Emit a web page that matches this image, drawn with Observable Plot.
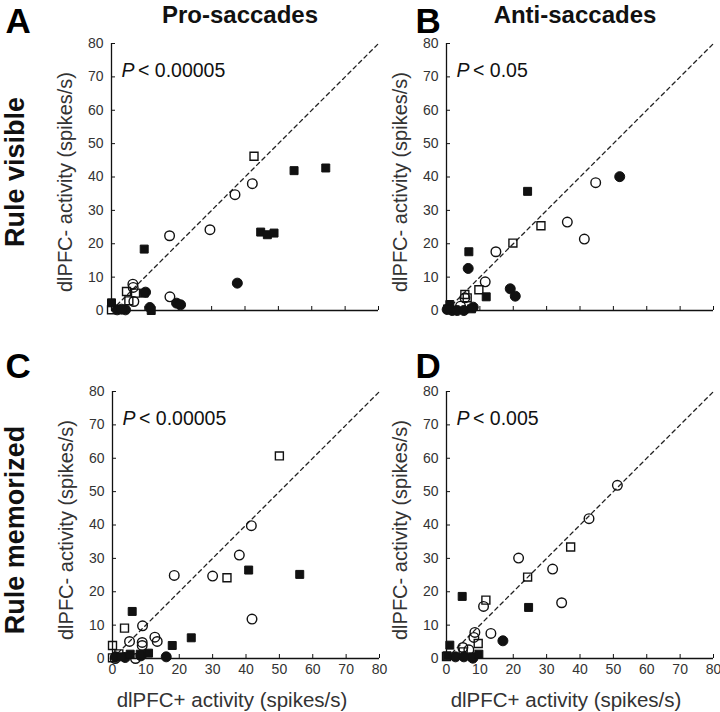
<!DOCTYPE html>
<html>
<head>
<meta charset="utf-8">
<script src="https://cdn.jsdelivr.net/npm/d3@7"></script>
<script src="https://cdn.jsdelivr.net/npm/@observablehq/plot@0.6"></script>
<style>
  html, body { margin: 0; padding: 0; background: #fff; }
  #chart { position: relative; width: 720px; height: 712px; overflow: hidden; background: #fff; }
  #chart svg { position: absolute; left: 0; top: 0; }
  [aria-label="pval"] text { letter-spacing: 0.3px; }
  [aria-label="ylabel"] text { letter-spacing: 0.8px; }
  [aria-label="title"] text { letter-spacing: 1.3px; }
</style>
</head>
<body>
<div id="chart"></div>
<script>
// ---- data (x = dlPFC+ activity, y = dlPFC- activity, spikes/s) ----
const axisTicks = [0, 10, 20, 30, 40, 50, 60, 70, 80];
const unityLine = [0, 80];

// Panel A: Pro-saccades, rule visible
const aOpenCircle = [[42.2,38],[37,34.7],[29.5,24.2],[17.4,22.4],[17.5,4.1],[6.4,7.9],[6.5,6.9],[6.7,2.7]];
const aFilledCircle = [[37.7,8.2],[19.5,2.2],[20.7,1.7],[10.2,5.5],[1.7,0.2],[4.2,0.2],[3,0.4],[11.5,0.9]];
const aOpenSquare = [[42.7,46.2],[4.5,5.7],[7.2,5.2],[5.2,2.9],[0,0.2]];
const aFilledSquare = [[54.7,41.9],[64.2,42.7],[9.8,18.4],[44.7,23.5],[46.7,22.7],[48.7,23.2],[0,2.3],[11.9,0],[9.8,5.2]];

// Panel B: Anti-saccades, rule visible
const bOpenCircle = [[44.7,38.3],[36.2,26.5],[41.3,21.4],[14.8,17.6],[11.6,8.6],[5.5,3.8],[4.2,1.3]];
const bFilledCircle = [[51.9,40.1],[6.5,12.6],[19.1,6.5],[20.6,4.3],[0.2,0.3],[1.7,0],[3.2,0],[5.2,0],[8,1]];
const bOpenSquare = [[28.3,25.4],[19.9,20.2],[9.7,6.2],[5.5,4.8],[6.2,3.8]];
const bFilledSquare = [[24.3,35.7],[6.7,17.6],[11.9,4.1],[1,1.8],[0.3,0.5],[7.5,0.5]];

// Panel C: Pro-saccades, rule memorized
const cOpenCircle = [[41.6,39.8],[38,31],[18.5,24.9],[30,24.7],[41.8,11.8],[9,9.8],[12.7,6.4],[13.4,5.1],[5.1,5.1],[8.9,4.8],[8.9,3.9],[6.9,0],[0.8,0]];
const cFilledCircle = [[16.1,0.5],[3.8,0.3],[0.9,0.5],[8.5,0.8]];
const cOpenSquare = [[50,60.7],[34.3,24.2],[3.6,9.1],[0,3.9],[0,0.2],[1.9,1.4]];
const cFilledSquare = [[40.8,26.5],[56.1,25.2],[5.9,14.1],[23.6,6.2],[17.9,3.9],[5.3,1.3],[8.3,1.3],[10.8,1.6],[2.5,0.5]];

// Panel D: Anti-saccades, rule memorized
const dOpenCircle = [[51.2,51.9],[42.7,41.9],[21.6,30.1],[31.8,26.8],[34.5,16.7],[11.1,15.6],[13.3,7.5],[8.5,7.8],[8.2,6.3],[4.9,3.3],[6.7,2.6]];
const dFilledCircle = [[16.9,5.3],[7.9,0.1],[2.7,0.5],[5.2,0.5]];
const dOpenSquare = [[37.2,33.4],[24.3,24.4],[11.8,17.5],[9.5,4.5],[0,0.6],[5,2]];
const dFilledSquare = [[24.6,15.3],[4.7,18.6],[1,4],[0.2,0.8],[7.7,0.5],[9.7,1.3]];

const panelTitles = ["Pro-saccades", "Anti-saccades"];
const rowLabels = ["Rule visible", "Rule memorized"];
const panelLetters = ["A", "B", "C", "D"];
const pValues = ["< 0.00005", "< 0.05", "< 0.00005", "< 0.005"];
const yLabel = "dlPFC- activity (spikes/s)";
const xLabel = "dlPFC+ activity (spikes/s)";

// ---- drawing ----
const FONT = "'Liberation Sans', Arial, Helvetica, sans-serif";
const INK = "#111";

function panel(cfg) {
  const [x0, y0, x1, y1] = cfg.frame;
  const marks = [
    Plot.line(unityLine, {x: d => d, y: d => d, stroke: "#222", strokeWidth: 1.3, strokeDasharray: "4,3.6"}),
    Plot.ruleX([0], {stroke: INK, strokeWidth: 1.3}),
    Plot.ruleY([0], {stroke: INK, strokeWidth: 1.3}),
    Plot.axisY(axisTicks, {anchor: "left", tickSize: -4, tickPadding: 12, fontSize: 14, fill: "#333", stroke: INK, label: null, fontFamily: FONT}),
    Plot.axisX(axisTicks, {anchor: "bottom", tickSize: -4, tickPadding: 10, fontSize: 14, fill: "#333", stroke: INK, label: null, fontFamily: FONT,
      tickFormat: cfg.showX ? (d => String(d)) : (() => "")}),
    Plot.dot(cfg.oc, {x: "0", y: "1", r: 4.8, stroke: INK, strokeWidth: 1.4, fill: "none"}),
    Plot.dot(cfg.os, {x: "0", y: "1", r: 4.5, symbol: "square", stroke: INK, strokeWidth: 1.4, fill: "none"}),
    Plot.dot(cfg.fc, {x: "0", y: "1", r: 5, stroke: INK, strokeWidth: 1, fill: INK}),
    Plot.dot(cfg.fs, {x: "0", y: "1", r: 4.5, symbol: "square", stroke: INK, strokeWidth: 1, fill: INK}),
    Plot.text(["P"], {frameAnchor: "top-left", dx: 10, dy: 33.5, lineAnchor: "bottom", textAnchor: "start",
      fontStyle: "italic", fontSize: 19.5, fill: INK, fontFamily: FONT}),
    Plot.text([cfg.p], {frameAnchor: "top-left", dx: 26.5, dy: 33.5, lineAnchor: "bottom", textAnchor: "start",
      fontSize: 19.5, fill: INK, fontFamily: FONT, ariaLabel: "pval"}),
    Plot.text([yLabel], {frameAnchor: "left", dx: -46, dy: cfg.ylDy, rotate: -90, textAnchor: "middle", lineAnchor: "middle",
      fontSize: 20, fill: "#333", fontFamily: FONT, ariaLabel: "ylabel"}),
    Plot.text([cfg.letter], {frameAnchor: "top-left", dx: cfg.letterDx, dy: cfg.letterDy, lineAnchor: "bottom", textAnchor: "start",
      fontSize: 35, fontWeight: "bold", fill: "#000", fontFamily: FONT})
  ];
  if (cfg.title) marks.push(Plot.text([cfg.title], {frameAnchor: "top", dx: -5, dy: -21, lineAnchor: "bottom", textAnchor: "middle",
      fontSize: 24, fontWeight: "bold", fill: "#111", fontFamily: FONT, ariaLabel: "title"}));
  if (cfg.row) marks.push(Plot.text([cfg.row], {frameAnchor: "left", dx: cfg.rowDx, dy: cfg.rowDy, rotate: -90, textAnchor: "middle", lineAnchor: "middle",
      fontSize: 27, fontWeight: "bold", fill: "#111", fontFamily: FONT}));
  if (cfg.showX) marks.push(Plot.text([xLabel], {frameAnchor: "bottom", dx: -14, dy: 42, textAnchor: "middle", lineAnchor: "middle",
      fontSize: 20.5, fill: "#333", fontFamily: FONT}));
  return Plot.plot({
    width: 720, height: 712,
    marginLeft: x0, marginRight: 720 - x1, marginTop: y0, marginBottom: 712 - y1,
    x: {domain: [0, 80], axis: null},
    y: {domain: [0, 80], axis: null},
    style: `position:absolute;left:0;top:0;background:transparent;overflow:visible;max-width:none;font-family:${FONT};`,
    marks
  });
}

const chart = document.getElementById("chart");
const panels = [
  {frame: [111, 43, 378, 310], oc: aOpenCircle, fc: aFilledCircle, os: aOpenSquare, fs: aFilledSquare, p: pValues[0],
   title: panelTitles[0], row: rowLabels[0], rowDx: -96, rowDy: -5, letter: panelLetters[0], letterDx: -106, letterDy: -11, ylDy: 5, showX: false},
  {frame: [446, 43, 713, 310], oc: bOpenCircle, fc: bFilledCircle, os: bOpenSquare, fs: bFilledSquare, p: pValues[1],
   title: panelTitles[1], letter: panelLetters[1], letterDx: -31, letterDy: -11, ylDy: 5, showX: false},
  {frame: [112, 391, 379, 658], oc: cOpenCircle, fc: cFilledCircle, os: cOpenSquare, fs: cFilledSquare, p: pValues[2],
   row: rowLabels[1], rowDx: -97, rowDy: 5, letter: panelLetters[2], letterDx: -107, letterDy: -14, ylDy: 5, showX: true},
  {frame: [446, 391, 713, 658], oc: dOpenCircle, fc: dFilledCircle, os: dOpenSquare, fs: dFilledSquare, p: pValues[3],
   letter: panelLetters[3], letterDx: -31, letterDy: -14, ylDy: 5, showX: true}
];
for (const cfg of panels) chart.appendChild(panel(cfg));
</script>
</body>
</html>
